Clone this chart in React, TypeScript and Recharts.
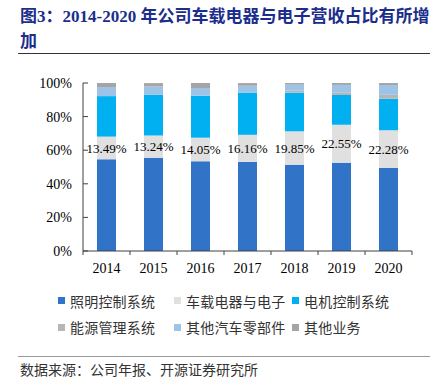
import React from 'react';
import { BarChart, Bar, XAxis, YAxis, LabelList } from 'recharts';

const years = ['2014', '2015', '2016', '2017', '2018', '2019', '2020'];
const lighting = [54.6, 55.5, 53.4, 53.0, 51.4, 52.6, 49.6];
const electronics = [13.49, 13.24, 14.05, 16.16, 19.85, 22.55, 22.28];
const motor = [24.1, 24.2, 24.95, 25.0, 22.95, 17.7, 18.7];
const energy = [0, 0, 0, 0, 1.2, 1.6, 2.4];
const otherParts = [5.4, 5.0, 4.6, 4.2, 3.6, 4.4, 5.8];
const otherBiz = [2.4, 2.0, 3.0, 1.6, 1.0, 1.2, 1.2];
const yTicks = [0, 20, 40, 60, 80, 100];

const seriesNames = ['照明控制系统', '车载电器与电子', '电机控制系统', '能源管理系统', '其他汽车零部件', '其他业务'];
const seriesKeys = ['lighting', 'electronics', 'motor', 'energy', 'otherParts', 'otherBiz'];
const seriesColors = ['#3173C7', '#E0E0E0', '#00B0F0', '#B6B6B6', '#9DC3E6', '#A5A5A5'];

const data = years.map((y, i) => ({
  year: y,
  lighting: lighting[i],
  electronics: electronics[i],
  motor: motor[i],
  energy: energy[i],
  otherParts: otherParts[i],
  otherBiz: otherBiz[i],
}));

const W = 442;
const CH = 285;
const M = { top: 83, right: 30, bottom: 4, left: 23 };
const YW = 60;
const XH = 30;
const plotW = W - M.left - M.right - YW;
const band = plotW / years.length;
const axisColor = '#404040';
const serif = '"Liberation Serif", "Times New Roman", serif';
const cjk = '"Noto Sans CJK SC", sans-serif';

const YTick = (props: any) => {
  const { x, y, payload } = props;
  const ax = x + 11;
  return (
    <g>
      <line x1={ax} x2={ax + 5} y1={y} y2={y} stroke={axisColor} strokeWidth={1} />
      <text x={x} y={y} dy="0.35em" textAnchor="end" fontSize={14} fontFamily={serif} fill="#000">
        {`${payload.value}%`}
      </text>
    </g>
  );
};

const XTick = (props: any) => {
  const { x, y, payload, index } = props;
  return (
    <g>
      {index === 0 && (
        <line x1={x - band / 2} x2={x - band / 2} y1={y} y2={y + 4} stroke={axisColor} strokeWidth={1} />
      )}
      <line x1={x + band / 2} x2={x + band / 2} y1={y} y2={y + 4} stroke={axisColor} strokeWidth={1} />
      <text x={x} y={y + 17} dy="0.35em" textAnchor="middle" fontSize={14} fontFamily={serif} fill="#000">
        {payload.value}
      </text>
    </g>
  );
};

const legendCols = [58, 174, 292];
const legendRows = [300.5, 327];

export default function App() {
  return (
    <div style={{ position: 'absolute', left: 0, top: 0, width: W, height: 391, background: '#fff', overflow: 'hidden' }}>
      <div
        style={{
          position: 'absolute',
          left: 20,
          top: 4,
          width: 412,
          fontSize: 17,
          lineHeight: '25px',
          fontWeight: 'bold',
          color: '#1B2E8C',
          fontFamily: `"Liberation Serif", "Noto Sans CJK SC", serif`,
        }}
      >
        图3：2014-2020 年公司车载电器与电子营收占比有所增加
      </div>
      <div style={{ position: 'absolute', left: 18, top: 53, width: 412, height: 1, background: '#333' }} />

      <div style={{ position: 'absolute', left: 0, top: 0 }}>
        <BarChart width={W} height={CH} data={data} margin={M}>
          <XAxis
            dataKey="year"
            height={XH}
            tickLine={false}
            tickSize={0}
            tickMargin={0}
            stroke={axisColor}
            tick={<XTick />}
            interval={0}
          />
          <YAxis
            width={YW}
            domain={[0, 100]}
            ticks={yTicks}
            allowDataOverflow
            tickLine={false}
            tickSize={0}
            tickMargin={11}
            stroke={axisColor}
            tick={<YTick />}
            interval={0}
          />
          {seriesKeys.map((k, i) => (
            <Bar key={k} dataKey={k} stackId="a" fill={seriesColors[i]} barSize={19} isAnimationActive={false}>
              {k === 'electronics' && (
                <LabelList
                  dataKey="electronics"
                  position="center"
                  formatter={(v: any) => `${Number(v).toFixed(2)}%`}
                  fill="#000"
                  fontSize={13}
                  fontFamily={serif}
                />
              )}
            </Bar>
          ))}
        </BarChart>
      </div>

      {seriesNames.map((name, i) => {
        const col = i % 3;
        const row = Math.floor(i / 3);
        const cx = legendCols[col];
        const cy = legendRows[row];
        return (
          <div key={name}>
            <div
              style={{
                position: 'absolute',
                left: cx,
                top: cy - 3.5,
                width: 7,
                height: 7,
                background: seriesColors[i],
              }}
            />
            <div
              style={{
                position: 'absolute',
                left: cx + 12,
                top: cy - 10,
                height: 20,
                lineHeight: '20px',
                fontSize: 14,
                whiteSpace: 'nowrap',
                color: '#333',
                fontFamily: cjk,
                letterSpacing: 0.2,
              }}
            >
              {name}
            </div>
          </div>
        );
      })}

      <div style={{ position: 'absolute', left: 18, top: 356, width: 412, height: 1, background: '#999' }} />
      <div
        style={{
          position: 'absolute',
          left: 20,
          top: 359,
          height: 20,
          lineHeight: '20px',
          fontSize: 14,
          whiteSpace: 'nowrap',
          color: '#333',
          fontFamily: cjk,
        }}
      >
        数据来源：公司年报、开源证券研究所
      </div>
    </div>
  );
}
